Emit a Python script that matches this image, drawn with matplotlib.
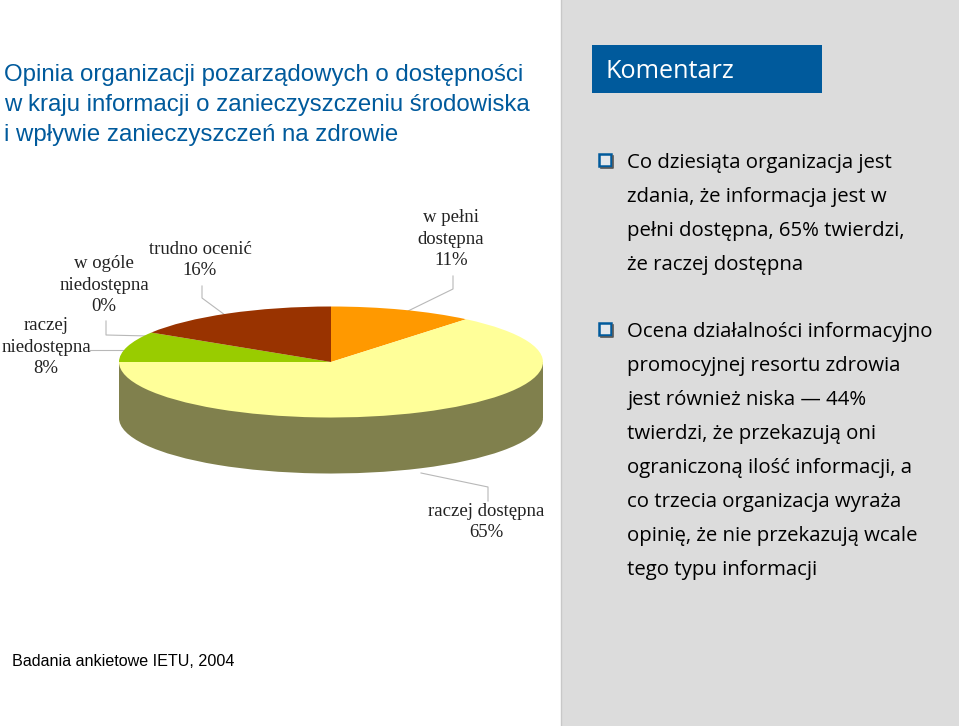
import matplotlib
matplotlib.use("Agg")
import matplotlib.pyplot as plt
from matplotlib.patches import Rectangle

W, H = 959, 726

labels = ["w pełni\ndostępna", "raczej dostępna", "raczej\nniedostępna", "w ogóle\nniedostępna", "trudno ocenić"]
percent_labels = ["11%", "65%", "8%", "0%", "16%"]
# slice sizes as drawn, the printed percentages are rounded differently
values = [11.0, 64.0, 8.9, 0, 16.1]
top_colors = ["#ff9900", "#ffff99", "#99cc00", "#33cccc", "#993300"]
side_colors = ["#804d00", "#80804d", "#4d6600", "#1a6666", "#4d1a00"]

title_lines = ["Opinia organizacji pozarządowych o dostępności",
               "w kraju informacji o zanieczyszczeniu środowiska",
               "i wpływie zanieczyszczeń na zdrowie"]
comment_1 = ["Co dziesiąta organizacja jest", "zdania, że informacja jest w",
             "pełni dostępna, 65% twierdzi,", "że raczej dostępna"]
comment_2 = ["Ocena działalności informacyjno", "promocyjnej resortu zdrowia",
             "jest również niska — 44%", "twierdzi, że przekazują oni",
             "ograniczoną ilość informacji, a", "co trzecia organizacja wyraża",
             "opinię, że nie przekazują wcale", "tego typu informacji"]
source = "Badania ankietowe IETU, 2004"

fig = plt.figure(figsize=(W / 100, H / 100), dpi=100, facecolor="white")

# overlay in pixel coords, y going down like the picture
bg = fig.add_axes([0, 0, 1, 1])
bg.set_xlim(0, W)
bg.set_ylim(H, 0)
bg.axis("off")

bg.add_patch(Rectangle((561, 0), W - 561, H, fc="#dcdcdc", ec="none"))
bg.plot([561, 561], [0, H], color="#c8c8c8", lw=1)
bg.add_patch(Rectangle((592, 45), 230, 48, fc="#005a9c", ec="none"))
bg.text(605, 72, "Komentarz", color="white", fontsize=18.2, family="Open Sans", va="center")

for i, line in enumerate(title_lines):
    bg.text(4, 75.5 + i * 29.5, line, color="#005a9c", fontsize=17.3, family="Liberation Sans", va="center")

bg.text(12, 661, source, color="black", fontsize=11.6, family="Liberation Sans", va="center")


def bullet(y):
    bg.plot([601, 613, 613], [y + 8, y + 8, y - 4], color="#555555", lw=1.2)
    bg.add_patch(Rectangle((599, y - 6), 12, 12, fc="#e4e8ec", ec="#005a9c", lw=1.8))


bullet(160)
for i, line in enumerate(comment_1):
    bg.text(627, 163 + i * 34, line, color="black", fontsize=14.7, family="Open Sans", va="center")
bullet(329)
for i, line in enumerate(comment_2):
    bg.text(627, 332 + i * 34, line, color="black", fontsize=14.7, family="Open Sans", va="center")

# pie: flattened by giving the axes a squashed box, depth is the extra y range
rx, ry, depth = 212, 55.5, 56
cx, cy = 331, 362
ax = fig.add_axes([(cx - rx) / W, (H - cy - ry - depth) / H, 2 * rx / W, (2 * ry + depth) / H])
ax.pie(values, colors=side_colors, startangle=90, counterclock=False, radius=1, center=(0, -depth / ry))
ax.add_patch(Rectangle((-1, -depth / ry), 2, depth / ry, fc=side_colors[1], ec="none"))
ax.pie(values, colors=top_colors, startangle=90, counterclock=False, radius=1, center=(0, 0))
ax.set_aspect("auto")
ax.set_xlim(-1, 1)
ax.set_ylim(-1 - depth / ry, 1)
ax.axis("off")

# leader lines
lead = "#b8b8b8"
bg.plot([408, 453, 453], [311, 289, 276], color=lead, lw=0.8)
bg.plot([225, 202, 202], [315, 298, 286], color=lead, lw=0.8)
bg.plot([149, 106, 106], [336, 335, 321], color=lead, lw=0.8)
bg.plot([125, 90], [350, 350], color=lead, lw=0.8)
bg.plot([421, 488, 488], [473, 487, 501], color=lead, lw=0.8)

# pie labels
label_pos = [(451, 239), (486, 522), (46, 347), (104, 285), (200, 260)]
for lab, p, (x, y) in zip(labels, percent_labels, label_pos):
    bg.text(x, y, lab + "\n" + p, fontsize=13.5, family="Liberation Serif", ha="center", va="center",
            color="#222222", linespacing=1.34)

fig.savefig("out.png", dpi=100)
